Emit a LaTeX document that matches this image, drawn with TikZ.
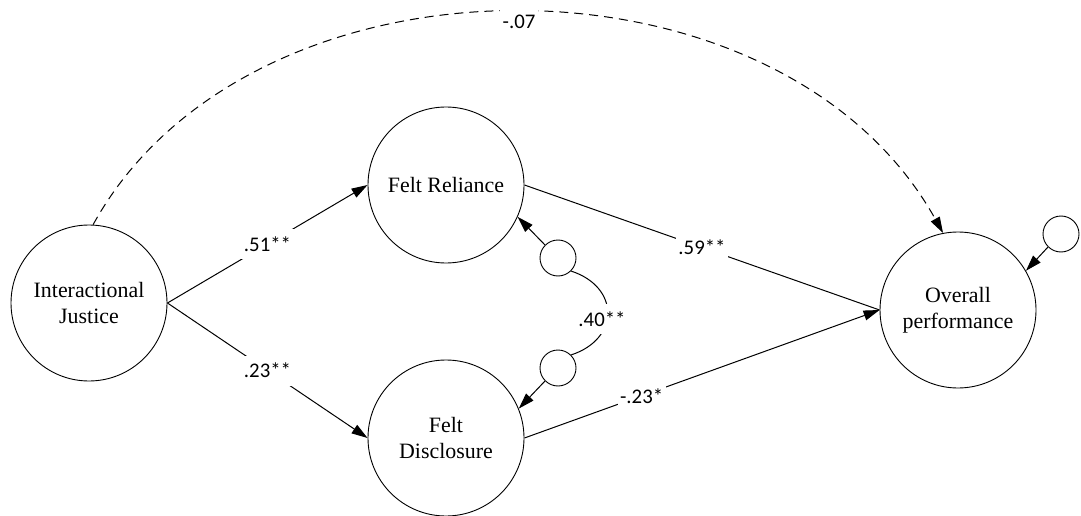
\documentclass[tikz,border=0pt]{standalone}
\usepackage{fontspec}
\setmainfont{Liberation Serif}
\newfontfamily\coeffont{Carlito}
\usetikzlibrary{arrows.meta}
\begin{document}
\begin{tikzpicture}[x=1pt,y=1pt,
  latent/.style={circle,draw,line width=0.9pt,minimum size=156pt,inner sep=0pt,
                 align=center,font=\fontsize{21.9}{26.5}\selectfont},
  errc/.style={circle,draw,line width=0.9pt,minimum size=36pt,inner sep=0pt},
  link/.style={line width=1pt},
  arr/.style={link,-{Triangle[length=16pt,width=10pt]}},
  coef/.style={fill=white,inner xsep=2.5pt,inner ysep=0pt,minimum height=30pt,
               font=\coeffont\fontsize{20.8}{25}\selectfont}
]
\useasboundingbox (0,0) rectangle (1081,515);

% latent variables
\node[latent] (IJ) at (89,212)  {Interactional\\Justice};
\node[latent] (FR) at (446,330) {Felt Reliance};
\node[latent] (FD) at (446,77)  {Felt\\Disclosure};
\node[latent] (OP) at (958,205) {Overall\\performance};

% disturbance terms
\node[errc] (us) at (558,257) {};
\node[errc] (ls) at (558,147) {};
\node[errc] (es) at (1061,281) {};

% structural paths
\draw[arr] (IJ.east) -- node[coef] {.51**} (FR.west);
\draw[arr] (IJ.east) -- node[coef] {.23**} (FD.west);
\draw[link] (FR.east) -- node[coef] {.59**} (OP.west);
\draw[arr] (FD.east) -- node[coef,pos=0.33] {-.23*} (OP.west);

% direct effect (dashed)
\draw[arr,dash pattern=on 9pt off 6pt] (IJ.87) .. controls (250,575) and (780,575) .. (OP.101);
\node[coef] (c07) at (519,493) {-.07};

% disturbances
\draw[arr] (us.135) -- (FR.-24.3);
\draw[arr] (ls.-135) -- (FD.22.6);
\draw[arr] (es.-135) -- (OP.30);

% residual covariance
\draw[link] (us.-45) .. controls (620,228) and (620,176) .. (ls.45);
\node[coef] (c40) at (602,196) {.40**};
\end{tikzpicture}
\end{document}
